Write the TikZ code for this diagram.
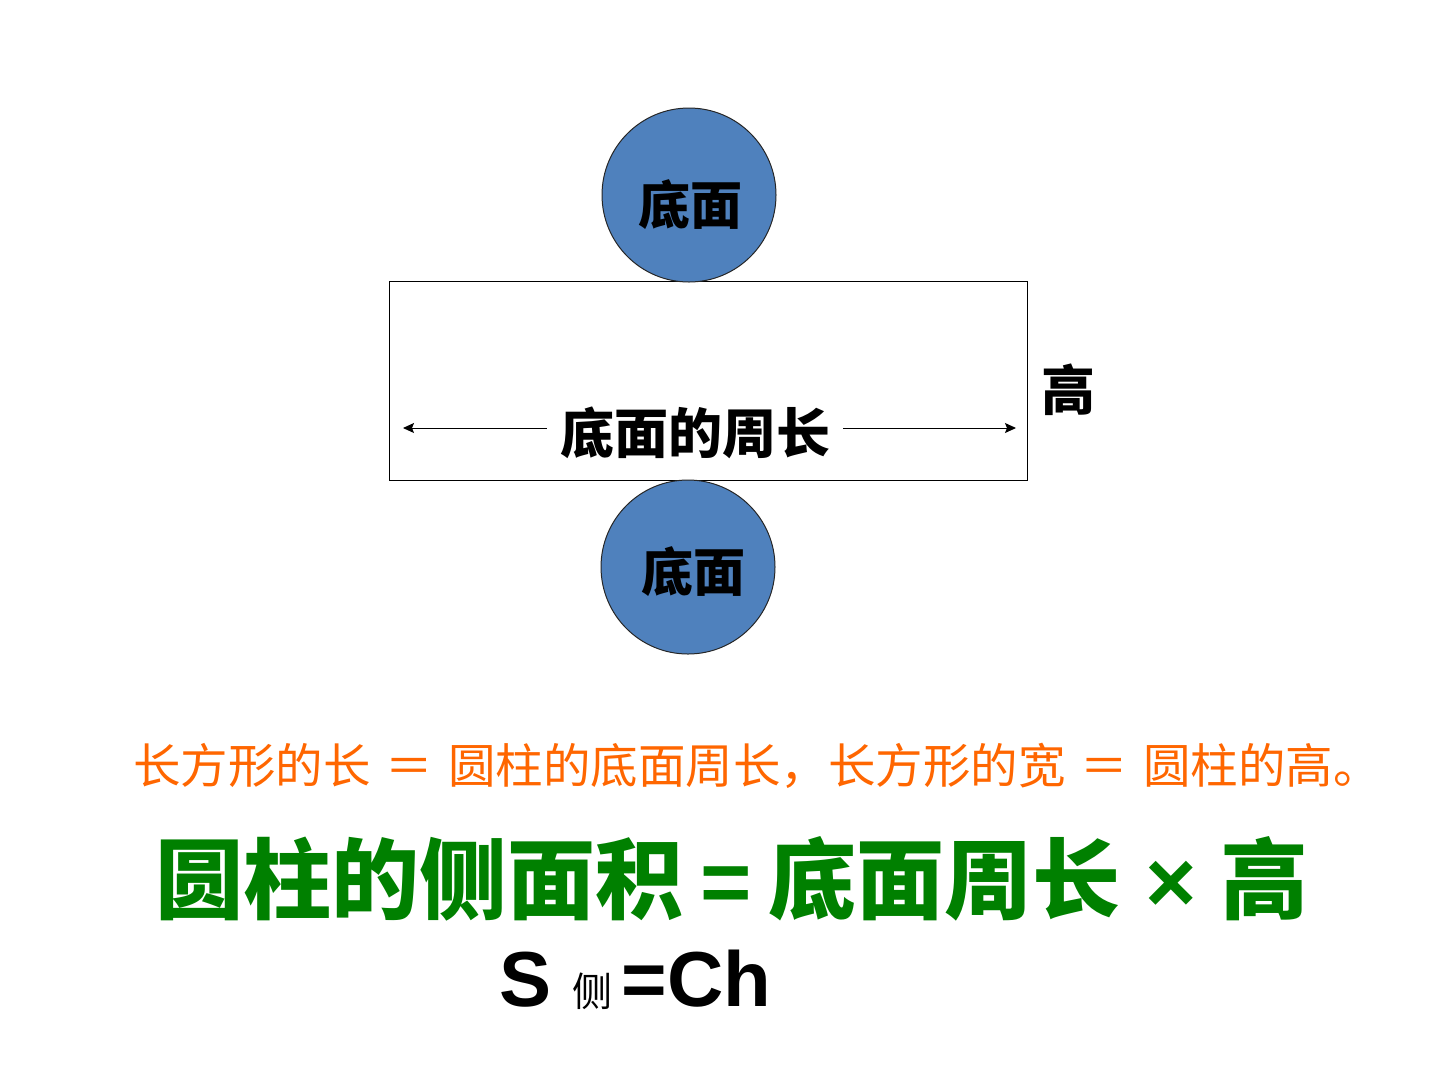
\documentclass[tikz,border=0pt]{standalone}
\usepackage{fontspec}
\setmainfont{Liberation Sans}
\newfontfamily\cjk{Noto Sans CJK SC}
\usetikzlibrary{arrows.meta, positioning}
\tikzset{>={Stealth[length=11pt,width=10pt,inset=2pt]}}
\definecolor{discblue}{RGB}{79,129,189}
\definecolor{noteorange}{RGB}{255,102,0}
\definecolor{rulegreen}{RGB}{0,128,0}
\newcommand{\gap}{\hspace{15pt}}

\begin{document}
\begin{tikzpicture}[x=1pt,y=-1pt,
  disc/.style={circle, fill=discblue, draw=black!85, line width=1pt, minimum size=174pt, inner sep=0pt},
  tag/.style={font=\cjk\bfseries\fontsize{52}{52}\selectfont, inner sep=0pt}]
\useasboundingbox (0,0) rectangle (1440,1080);
\node [draw, line width=1pt, minimum width=638pt, minimum height=199pt, inner sep=0pt] (side) at (708,380.5) {};
\node [disc] (top) at (689,195) {};
\node [disc] (bottom) at (688,567) {};
\node [tag] (toplabel) at (690,205) {底面};
\node [tag] (bottomlabel) at (693,572) {底面};
\node [tag, font=\cjk\bfseries\fontsize{54}{54}\selectfont, inner xsep=13pt] (perim) at (695,433) {底面的周长};
\node [tag, font=\cjk\bfseries\fontsize{54}{54}\selectfont] (height) at (1068,390) {高};
\coordinate (perimL) at (403,428);
\coordinate (perimR) at (1016,428);
\draw[->, line width=1pt](perim.west |- perimL)--(perimL);
\draw[->, line width=1pt](perim.east |- perimR)--(perimR);

\node [anchor=base west, inner sep=0pt, text=noteorange, font=\cjk\fontsize{47.5}{47.5}\selectfont] (note) at (133,783) {长方形的长\gap{}＝\gap{}圆柱的底面周长，长方形的宽\gap{}＝\gap{}圆柱的高。};
\node [anchor=base west, inner sep=0pt, text=rulegreen, font=\cjk\bfseries\fontsize{88}{88}\selectfont] (rule) at (155,912) {圆柱的侧面积{\rmfamily\bfseries\hspace{17pt}=\hspace{17pt}}底面周长{\rmfamily\bfseries{} × }高};
\node [anchor=base west, inner sep=0pt, font=\bfseries\fontsize{78}{78}\selectfont] (formula) at (499,1006) {S {\cjk\mdseries\fontsize{40}{40}\selectfont 侧 }=Ch};

\end{tikzpicture}
\end{document}
